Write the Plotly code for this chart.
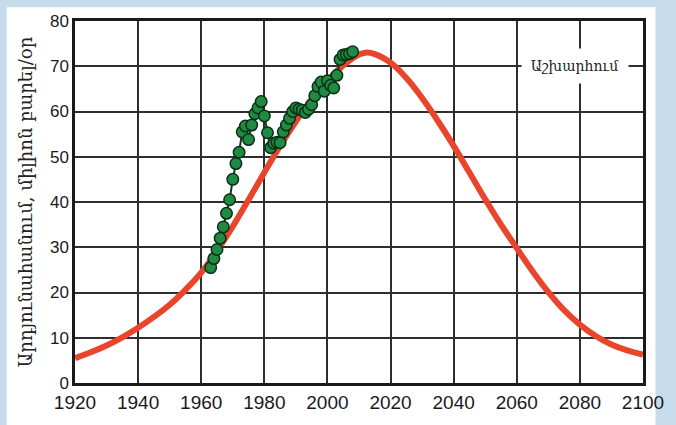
import plotly.graph_objects as go

# Hubbert (model) curve
curve_years = [1920, 1925, 1930, 1935, 1940, 1945, 1950, 1955, 1960, 1965, 1970, 1975,
               1980, 1985, 1990, 1995, 2000, 2005, 2010, 2012, 2015, 2020, 2025, 2030,
               2035, 2040, 2045, 2050, 2055, 2060, 2065, 2070, 2075, 2080, 2085, 2090,
               2095, 2100]
curve_values = [5.5, 6.8, 8.3, 10.1, 12.2, 14.6, 17.3, 20.6, 24.4, 29.2, 34.6, 40.5,
                46.5, 52.4, 57.8, 62.7, 66.8, 70.2, 72.6, 73.0, 72.7, 70.8, 67.4, 63.0,
                57.9, 52.4, 46.5, 40.6, 35.0, 29.8, 24.7, 20.1, 16.1, 12.9, 10.4, 8.5,
                7.2, 6.3]

# Observed production points (green)
obs_years = list(range(1963, 2009))
obs_values = [25.5, 27.5, 29.5, 32.0, 34.5, 37.5, 40.5, 45.0, 48.5, 51.0, 55.5, 56.8,
              53.8, 57.0, 59.5, 60.8, 62.2, 59.0, 55.3, 52.0, 53.0, 53.2, 53.1, 55.5,
              57.0, 58.5, 60.0, 60.8, 60.5, 60.3, 59.8, 60.5, 61.5, 63.5, 65.5, 66.5,
              64.5, 66.8, 65.8, 65.2, 68.0, 71.5, 72.5, 72.6, 72.8, 73.2]

x_ticks = [1920, 1940, 1960, 1980, 2000, 2020, 2040, 2060, 2080, 2100]
y_ticks = [0, 10, 20, 30, 40, 50, 60, 70, 80]

y_title = "Արդյունահանում, միլիոն բարել/օր"
label_text = "Աշխարհում"

fig = go.Figure()
fig.add_trace(go.Scatter(
    x=curve_years, y=curve_values, mode="lines",
    line=dict(color="#e8452c", width=6, shape="spline", smoothing=1.2),
    hoverinfo="skip", showlegend=False))
fig.add_trace(go.Scatter(
    x=obs_years, y=obs_values, mode="lines+markers",
    line=dict(color="#123a1e", width=2),
    marker=dict(size=11.5, color="#1f8a42", line=dict(color="#0b2f15", width=1.5)),
    showlegend=False))

fig.add_annotation(x=2078.5, y=70, xref="x", yref="y", text=label_text,
                   showarrow=False, bgcolor="white", width=104, height=32,
                   font=dict(family="DejaVu Serif", size=14, color="#222"))

fig.add_shape(type="rect", xref="paper", yref="paper",
              x0=-0.1202, x1=1.022, y0=-0.2, y1=1.038,
              fillcolor="white", line=dict(width=0), layer="below")

fig.update_layout(
    width=676, height=425,
    margin=dict(l=75, r=27, t=17, b=40),
    paper_bgcolor="#c6dcec", plot_bgcolor="white",
    showlegend=False,
    xaxis=dict(range=[1920, 2100], tickvals=x_ticks, ticks="",
               showgrid=True, gridcolor="#2e2e2e", gridwidth=2,
               showline=True, linecolor="#1a1a1a", linewidth=2.5, mirror=True,
               zeroline=False,
               tickfont=dict(family="Liberation Sans, Arial", size=19, color="#1a1a1a")),
    yaxis=dict(range=[0, 80], tickvals=y_ticks, ticks="",
               showgrid=True, gridcolor="#2e2e2e", gridwidth=2,
               showline=True, linecolor="#1a1a1a", linewidth=2.5, mirror=True,
               zeroline=False,
               tickfont=dict(family="Liberation Sans, Arial", size=17, color="#1a1a1a"),
               title=dict(text=y_title, standoff=13,
                          font=dict(family="DejaVu Serif", size=18, color="#222"))),
)

fig.write_html("out.html")
